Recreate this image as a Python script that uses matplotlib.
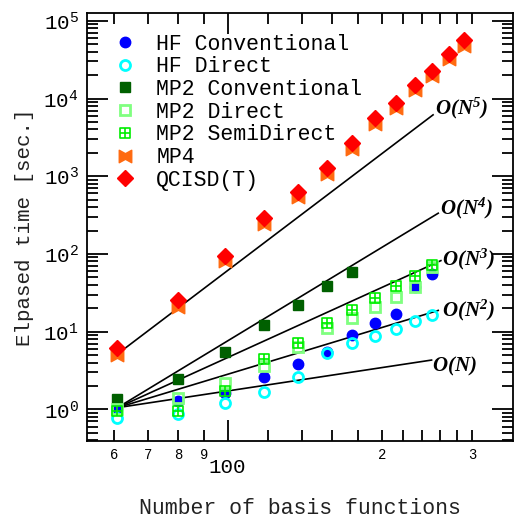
import numpy as np
import matplotlib
matplotlib.use("Agg")
import matplotlib.pyplot as plt
from matplotlib.path import Path
from matplotlib.ticker import FixedLocator, FuncFormatter, LogLocator, NullFormatter

# ---------------- data ----------------
n_basis = [61, 80, 99, 118, 137, 156, 175, 194, 213, 232, 251, 270, 289]

hf_conventional = [1.0, 1.28, 1.6, 2.58, 3.8, 5.5, 9.0, 12.8, 16.8, 37.8, 54.6]
hf_direct = [0.78, 0.86, 1.19, 1.69, 2.58, 5.35, 7.2, 8.9, 10.7, 13.7, 16.4]
mp2_conventional = [1.36, 2.45, 5.5, 12.2, 22.0, 38.6, 59.0]
mp2_direct = [1.0, 1.38, 2.2, 3.64, 6.4, 11.0, 15.1, 20.9, 28.1, 37.8, 68.0]
mp2_semidirect = [0.96, 0.94, 1.72, 4.4, 7.2, 12.8, 19.0, 27.3, 39.0, 52.0, 72.0]
mp4 = [5.0, 21.0, 80.0, 245.0, 540.0, 1080.0, 2250.0, 4700.0, 7500.0, 12800.0, 19500.0, 32000.0, 48000.0]
qcisd_t = [6.1, 25.5, 94.0, 286.0, 627.0, 1257.0, 2636.0, 5570.0, 8830.0, 14900.0, 22800.0, 37400.0, 56600.0]

series_labels = ["HF Conventional", "HF Direct", "MP2 Conventional", "MP2 Direct",
                 "MP2 SemiDirect", "MP4", "QCISD(T)"]

# scaling guide lines O(N^k): order, start value at first N, last N
line_orders = [1, 2, 3, 4, 5]
line_start_values = [1.05, 1.05, 1.05, 1.05, 5.15]
line_end_n = [250, 257.6, 260.7, 257.6, 251.7]

x_minor_ticks = [60, 70, 80, 90, 120, 140, 160, 180, 200, 220, 240, 260, 280, 300]
x_minor_labels = {60: "6", 70: "7", 80: "8", 90: "9", 200: "2", 300: "3"}
x_major_ticks = [100]
y_major_exponents = [0, 1, 2, 3, 4, 5]

# ---------------- style ----------------
plt.rcParams['font.family'] = ['Liberation Mono', 'DejaVu Sans']
plt.rcParams['mathtext.fontset'] = 'custom'

fig = plt.figure(figsize=(5.15, 5.17), dpi=100)
ax = fig.add_axes([87 / 515, 1 - 441 / 517, 426 / 515, 428 / 517])
ax.set_xscale('log')
ax.set_yscale('log')
ax.set_xlim(53.2, 360.4)
ax.set_ylim(0.391, 1.26e5)

# custom markers
bowtie = Path([(-1, -1), (0, -0.45), (1, -1), (1, 1), (0, 0.45), (-1, 1), (-1, -1)],
              [Path.MOVETO] + [Path.LINETO] * 5 + [Path.CLOSEPOLY])
boxplus = Path([(-1, -1), (1, -1), (1, 1), (-1, 1), (-1, -1),
                (0, -1), (0, 1), (-1, 0), (1, 0)],
               [Path.MOVETO, Path.LINETO, Path.LINETO, Path.LINETO, Path.CLOSEPOLY,
                Path.MOVETO, Path.LINETO, Path.MOVETO, Path.LINETO])

n11 = n_basis[:11]
n7 = n_basis[:7]
handles = []
h, = ax.plot(n11, hf_conventional, ls='none', marker='o', ms=7.5, mfc='#0000ff', mec='#0000ff', zorder=3)
handles.append(h)
h, = ax.plot(n11, hf_direct, ls='none', marker='o', ms=7.2, mfc='none', mec='#00ffff', mew=2.0, zorder=3)
handles.append(h)
h, = ax.plot(n7, mp2_conventional, ls='none', marker='s', ms=7.0, mfc='#006000', mec='#006000', zorder=3)
handles.append(h)
h, = ax.plot(n11, mp2_direct, ls='none', marker='s', ms=7.5, mfc='none', mec='#80ff80', mew=2.0, zorder=3)
handles.append(h)
h, = ax.plot(n11, mp2_semidirect, ls='none', marker=boxplus, ms=7.5, mfc='none', mec='#00ee00', mew=1.2, zorder=3)
handles.append(h)
h, = ax.plot(n_basis, mp4, ls='none', marker=bowtie, ms=9.0, mfc='#ff6a10', mec='#ff6a10', zorder=3)
handles.append(h)
h, = ax.plot(n_basis, qcisd_t, ls='none', marker='D', ms=8.5, mfc='#ff0000', mec='#ff0000', zorder=4)
handles.append(h)

# guide lines
label_offsets = {1: (0, -4.3), 2: (3, -0.3), 3: (1, 0.7), 4: (1, 3.7), 5: (1.5, 4.5)}
for k, y0, n_end in zip(line_orders, line_start_values, line_end_n):
    xs = np.array([n_basis[0], n_end])
    ys = y0 * (xs / n_basis[0]) ** k
    ax.plot(xs, ys, color='black', lw=1.2, zorder=2)
    txt = r'$\mathregular{O(N)}$' if k == 1 else r'$\mathregular{O(N^{%d})}$' % k
    ax.annotate(txt, (xs[-1], ys[-1]), xytext=label_offsets[k], textcoords='offset points',
                ha='left', va='center', family='Liberation Serif', style='italic',
                weight='bold', fontsize=15, zorder=5)

# ticks
ax.xaxis.set_major_locator(FixedLocator(x_major_ticks))
ax.xaxis.set_minor_locator(FixedLocator(x_minor_ticks))
ax.xaxis.set_major_formatter(FuncFormatter(lambda v, p: "%d" % v))
ax.xaxis.set_minor_formatter(FuncFormatter(lambda v, p: x_minor_labels.get(int(round(v)), "")))
ax.yaxis.set_major_locator(FixedLocator([10.0 ** e for e in y_major_exponents]))
ax.yaxis.set_minor_locator(LogLocator(base=10, subs=np.arange(2, 10), numticks=20))
ax.yaxis.set_major_formatter(FuncFormatter(lambda v, p: r'$\mathregular{10^{%d}}$' % int(round(np.log10(v)))))
ax.yaxis.set_minor_formatter(NullFormatter())

ax.tick_params(which='both', direction='in', top=True, right=True, width=1.3, color='black')
ax.tick_params(which='major', length=15)
ax.tick_params(which='minor', length=8)
ax.tick_params(axis='x', which='major', labelsize=15, pad=12)
ax.tick_params(axis='x', which='minor', labelsize=10, pad=5)
ax.tick_params(axis='y', which='major', labelsize=15, pad=6)
for s in ax.spines.values():
    s.set_linewidth(1.3)

ax.set_xlabel('Number of basis functions', fontsize=15.5, labelpad=15, color='#222222')
ax.set_ylabel('Elpased time [sec.]', fontsize=15, labelpad=7, color='#222222')

ax.legend(handles, series_labels, loc='upper left', frameon=False, fontsize=15.5,
          handlelength=1.0, handletextpad=0.95, labelspacing=0.08,
          borderaxespad=0.0, bbox_to_anchor=(0.054, 0.962), borderpad=0.2)

fig.savefig('out.png', dpi=100)
